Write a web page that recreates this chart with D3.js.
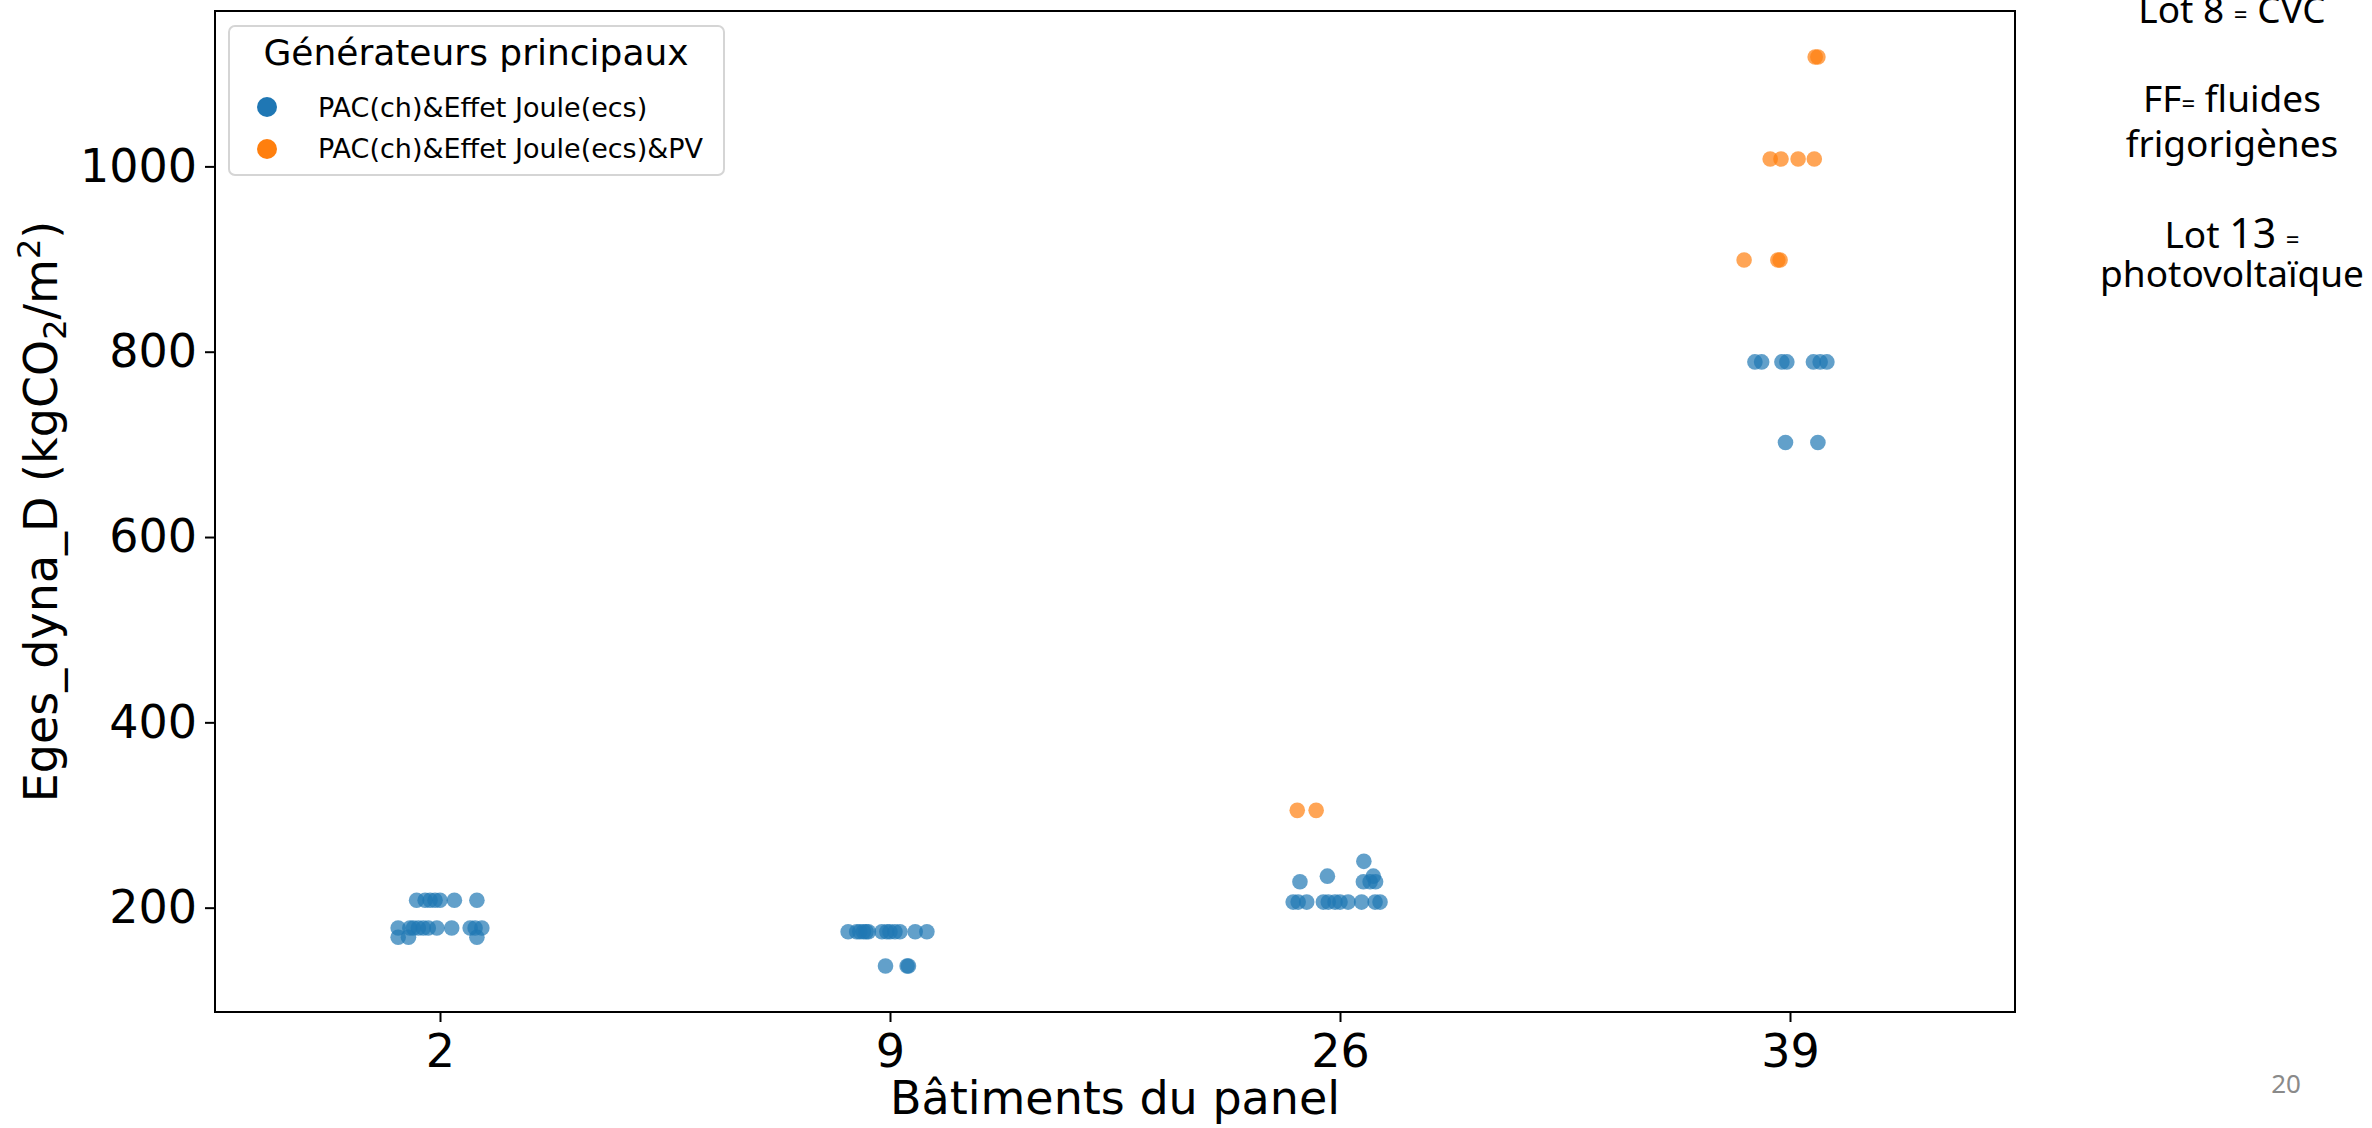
<!DOCTYPE html>
<html>
<head>
<meta charset="utf-8">
<script src="https://cdn.jsdelivr.net/npm/d3@7"></script>
<style>
  body { margin: 0; background: white; }
  text { font-family: 'DejaVu Sans', sans-serif; }
  .note { font-family: 'Noto Sans', sans-serif; }
</style>
</head>
<body>
<div id="chart"></div>
<script>
'use strict';
// Data
const batiments = ['2', '9', '26', '39']
const yTicks = [200, 400, 600, 800, 1000]
const groups = ['PAC(ch)&Effet Joule(ecs)', 'PAC(ch)&Effet Joule(ecs)&PV']

// PAC(ch)&Effet Joule(ecs) : building, Eges value, jitter (category units)
const pacBat = ['2','2','2','2','2','2','2',
  '2','2','2','2','2','2','2','2','2','2','2',
  '2','2','2',
  '9','9','9','9','9','9','9','9','9','9','9','9','9',
  '9','9','9',
  '26','26','26','26','26','26','26',
  '26','26','26','26','26','26','26','26','26','26','26',
  '39','39','39','39','39','39','39',
  '39','39']
const pacEges = [208,208,208,208,208,208,208,
  178,178,178,178,178,178,178,178,178,178,178,
  168,168,168,
  174,174,174,174,174,174,174,174,174,174,174,174,174,
  137,137,137,
  250,234,234,228,228,228,228,
  206,206,206,206,206,206,206,206,206,206,206,
  789,789,789,789,789,789,789,
  702,702]
const pacJitter = [-0.052,-0.033,-0.022,-0.011,0.0,0.032,0.082,
  -0.093,-0.067,-0.059,-0.048,-0.037,-0.026,-0.007,0.026,0.067,0.078,0.093,
  -0.093,-0.070,0.082,
  -0.093,-0.074,-0.067,-0.059,-0.053,-0.048,-0.018,-0.007,0.0,0.011,0.022,0.056,0.082,
  -0.010,0.038,0.041,
  0.053,-0.028,0.074,-0.089,0.052,0.067,0.079,
  -0.104,-0.093,-0.074,-0.037,-0.026,-0.011,0.0,0.018,0.048,0.078,0.089,
  -0.078,-0.063,-0.018,-0.007,0.052,0.067,0.082,
  -0.010,0.062]

// PAC(ch)&Effet Joule(ecs)&PV
const pvBat = ['26','26','39','39','39','39','39','39','39','39','39']
const pvEges = [305,305,1118,1118,1008,1008,1008,1008,899,899,899]
const pvJitter = [-0.095,-0.053,0.056,0.062,-0.044,-0.020,0.018,0.054,-0.102,-0.027,-0.022]

const colors = ['#1f77b4', '#ff7f0e']

const W = 2372, H = 1128
const frame = { left: 215, right: 2015, top: 11, bottom: 1012 }

const svg = d3.select('#chart').append('svg')
  .attr('width', W)
  .attr('height', H)
  .style('background', 'white')

const x = d3.scaleLinear().domain([-0.5, batiments.length - 0.5]).range([frame.left, frame.right])
const y = d3.scaleLinear().domain([87.4, 1167.7]).range([frame.bottom, frame.top])
const xPos = (b, j) => x(batiments.indexOf(b) + j)

// Points
const series = [
  pacBat.map((b, i) => ({ b, v: pacEges[i], j: pacJitter[i] })),
  pvBat.map((b, i) => ({ b, v: pvEges[i], j: pvJitter[i] }))
]
series.forEach((pts, k) => {
  svg.append('g').selectAll('circle').data(pts).join('circle')
    .attr('cx', d => xPos(d.b, d.j))
    .attr('cy', d => y(d.v))
    .attr('r', 7.8)
    .attr('fill', colors[k])
    .attr('fill-opacity', 0.7)
})

// Axes
const xAxis = svg.append('g')
  .attr('transform', `translate(0,${frame.bottom})`)
  .call(d3.axisBottom(x).tickValues(d3.range(batiments.length)).tickFormat(i => batiments[i]).tickSize(10).tickPadding(12))
const yAxis = svg.append('g')
  .attr('transform', `translate(${frame.left},0)`)
  .call(d3.axisLeft(y).tickValues(yTicks).tickFormat(d3.format('d')).tickSize(10).tickPadding(8))
;[xAxis, yAxis].forEach(a => {
  a.select('.domain').remove()
  a.selectAll('line').attr('stroke', '#000').attr('stroke-width', 2)
  a.selectAll('text').attr('font-size', 46).attr('fill', '#000').attr('font-family', 'DejaVu Sans')
})

// Frame
svg.append('rect')
  .attr('x', frame.left)
  .attr('y', frame.top)
  .attr('width', frame.right - frame.left)
  .attr('height', frame.bottom - frame.top)
  .attr('fill', 'none')
  .attr('stroke', '#000')
  .attr('stroke-width', 2)

// Axis labels
svg.append('text')
  .attr('x', (frame.left + frame.right) / 2)
  .attr('y', 1114)
  .attr('text-anchor', 'middle')
  .attr('font-size', 46)
  .text('Bâtiments du panel')

const yl = svg.append('text')
  .attr('transform', `translate(57,${(frame.top + frame.bottom) / 2}) rotate(-90)`)
  .attr('text-anchor', 'middle')
  .attr('font-size', 46)
yl.append('tspan').text('Eges_dyna_D (kgCO')
yl.append('tspan').attr('font-size', 32).attr('dy', 9).text('2')
yl.append('tspan').attr('dy', -9).text('/m')
yl.append('tspan').attr('font-size', 32).attr('dy', -17).text('2')
yl.append('tspan').attr('dy', 17).text(')')

// Legend
const lg = svg.append('g')
lg.append('rect')
  .attr('x', 229).attr('y', 26)
  .attr('width', 495).attr('height', 149)
  .attr('rx', 6)
  .attr('fill', 'white').attr('fill-opacity', 0.8)
  .attr('stroke', '#d5d5d5').attr('stroke-width', 2)
lg.append('text')
  .attr('x', 476).attr('y', 65)
  .attr('text-anchor', 'middle')
  .attr('font-size', 36)
  .text('Générateurs principaux')
groups.forEach((g, i) => {
  lg.append('circle')
    .attr('cx', 267).attr('cy', 107 + i * 42)
    .attr('r', 10)
    .attr('fill', colors[i])
  lg.append('text')
    .attr('x', 318).attr('y', 117 + i * 41)
    .attr('font-size', 27)
    .text(g)
})

// Slide notes on the right
const nx = 2232
const note = (yy, parts) => {
  const t = svg.append('text').attr('class', 'note')
    .attr('x', nx).attr('y', yy)
    .attr('text-anchor', 'middle')
    .attr('font-size', 37)
  parts.forEach(p => t.append('tspan').attr('font-size', p[1] || 37).text(p[0]))
}
note(23, [['Lot 8 '], ['=', 24], [' CVC']])
note(112, [['FF'], ['=', 24], [' fluides']])
note(157, [['frigorigènes']])
note(248, [['Lot '], ['13', 41], [' '], ['=', 24]])
note(287, [['photovoltaïque']])

svg.append('text').attr('class', 'note')
  .attr('x', 2286).attr('y', 1093)
  .attr('text-anchor', 'middle')
  .attr('font-size', 26)
  .attr('fill', '#8a8a8a')
  .text('20')
</script>
</body>
</html>
